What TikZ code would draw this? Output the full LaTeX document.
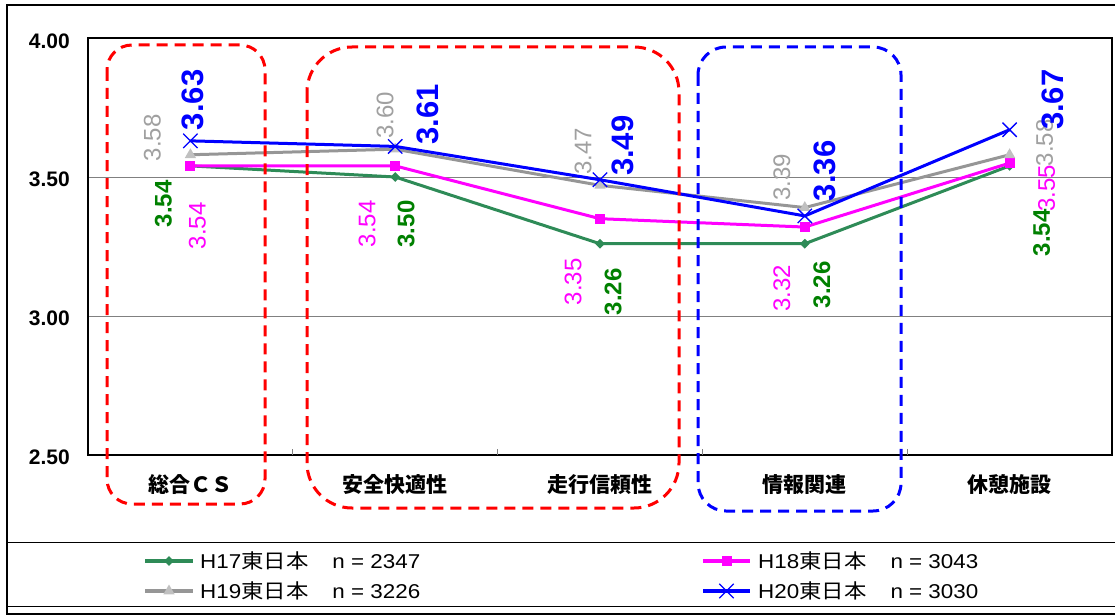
\documentclass[tikz,border=0pt]{standalone}
\usepackage{fontspec}
\setmainfont{Liberation Sans}
\newfontfamily\jpfont{Noto Sans CJK JP}
\newfontfamily\legfont[FakeStretch=1.12]{Liberation Sans}
\newfontfamily\legjpfont[FakeStretch=1.12]{Noto Sans CJK JP}
\usetikzlibrary{shapes.geometric,shapes.misc,calc}
\definecolor{seagr}{RGB}{46,139,87}
\definecolor{valgr}{RGB}{0,128,0}
\definecolor{linegr}{RGB}{150,150,150}
\definecolor{markgr}{RGB}{192,192,192}
\definecolor{valgray}{RGB}{160,160,160}
\definecolor{mag}{RGB}{255,0,255}

\begin{document}
\begin{tikzpicture}[x=1pt,y=-1pt,
    serie/.style={line width=3pt, line join=round},
    val/.style={rotate=90, inner sep=0pt, font=\fontsize{24}{24}\selectfont},
    bigval/.style={rotate=90, inner sep=0pt, font=\bfseries\fontsize{31}{31}\selectfont},
    mk17/.style={diamond, fill=seagr, inner sep=0pt, minimum size=10pt},
    mk18/.style={rectangle, fill=mag, inner sep=0pt, minimum size=10pt},
    mk19/.style={regular polygon, regular polygon sides=3, fill=markgr, inner sep=0pt, minimum size=13pt},
    mk20/.style={cross out, draw=blue, line width=1.3pt, inner sep=0pt, minimum size=13pt},
    groupbox/.style={line width=3pt, dash pattern=on 11pt off 7pt, rounded corners=25pt},
    ticklab/.style={anchor=east, inner sep=0pt, font=\bfseries\fontsize{21}{21}\selectfont},
    catlab/.style={inner sep=0pt, font=\jpfont\bfseries\fontsize{21}{21}\selectfont},
    legtext/.style={anchor=west, inner sep=0pt, font=\legfont\fontsize{20}{20}\selectfont}]
  \useasboundingbox (0,0) rectangle (1115,615);

  % frame and legend box
  \draw[line width=1.5pt] (1115,5) -- (7,5) -- (7,614) -- (1115,614);
  \draw[line width=1pt] (7,542) -- (1115,542);
  \draw[line width=1pt] (7,606) -- (1115,606);

  % plot area
  \draw[gray, line width=0.8pt] (88,177) -- (1112,177);
  \draw[gray, line width=0.8pt] (88,316) -- (1112,316);
  \draw[line width=1.5pt] (88,38) rectangle (1112,455);
  \foreach \t in {1,...,4}
    \draw[gray, line width=0.8pt] ({88+204.8*\t},449) -- ({88+204.8*\t},455);

  \node[ticklab] (y400) at (70,41) {4.00};
  \node[ticklab] (y350) at (70,179) {3.50};
  \node[ticklab] (y300) at (70,318) {3.00};
  \node[ticklab] (y250) at (70,457) {2.50};

  \node[catlab] (c1) at (190.4,485) {総合ＣＳ};
  \node[catlab] (c2) at (395.2,485) {安全快適性};
  \node[catlab] (c3) at (600,485) {走行信頼性};
  \node[catlab] (c4) at (804.8,485) {情報関連};
  \node[catlab] (c5) at (1009.6,485) {休憩施設};

  % points of the four series
  \foreach \i/\v in {1/3.54,2/3.50,3/3.26,4/3.26,5/3.54}
    \coordinate (g\i) at ({190.4+204.8*(\i-1)},{455-(\v-2.5)*278});
  \foreach \i/\v in {1/3.54,2/3.54,3/3.35,4/3.32,5/3.55}
    \coordinate (m\i) at ({190.4+204.8*(\i-1)},{455-(\v-2.5)*278});
  \foreach \i/\v in {1/3.58,2/3.60,3/3.47,4/3.39,5/3.58}
    \coordinate (s\i) at ({190.4+204.8*(\i-1)},{455-(\v-2.5)*278});
  \foreach \i/\v in {1/3.63,2/3.61,3/3.49,4/3.36,5/3.67}
    \coordinate (b\i) at ({190.4+204.8*(\i-1)},{455-(\v-2.5)*278});

  \draw[serie, seagr] (g1) -- (g2) -- (g3) -- (g4) -- (g5);
  \foreach \i in {1,...,5} \node[mk17] (gm\i) at (g\i) {};
  \draw[serie, mag] (m1) -- (m2) -- (m3) -- (m4) -- (m5);
  \foreach \i in {1,...,5} \node[mk18] (mm\i) at (m\i) {};
  \draw[serie, linegr] (s1) -- (s2) -- (s3) -- (s4) -- (s5);
  \foreach \i in {1,...,5} \node[mk19] (sm\i) at (s\i) {};
  \draw[serie, blue] (b1) -- (b2) -- (b3) -- (b4) -- (b5);
  \foreach \i in {1,...,5} \node[mk20] (bm\i) at (b\i) {};

  % value labels
  \foreach \i/\v/\dx/\dy in {1/3.54/-27/38,2/3.50/11/47,3/3.26/13/48,4/3.26/17/41,5/3.54/32/67}
    \node[val, font=\bfseries\fontsize{24}{24}\selectfont, valgr] (gv\i) at ($(g\i)+(\dx,\dy)$) {\v};
  \foreach \i/\v/\dx/\dy in {1/3.54/7/60,2/3.54/-28/58,3/3.35/-27/63,4/3.32/-23/61,5/3.55/37/25}
    \node[val, mag] (mv\i) at ($(m\i)+(\dx,\dy)$) {\v};
  \foreach \i/\v/\dx/\dy in {1/3.58/-38/-17,2/3.60/-10/-34,3/3.47/-17/-34,4/3.39/-23/-30,5/3.58/35/-12}
    \node[val, valgray] (sv\i) at ($(s\i)+(\dx,\dy)$) {\v};
  \foreach \i/\v/\dx/\dy in {1/3.63/2/-41,2/3.61/33/-32,3/3.49/23/-34,4/3.36/20/-45,5/3.67/43/-30}
    \node[bigval, blue] (bv\i) at ($(b\i)+(\dx,\dy)$) {\v};

  % dashed groups
  \draw[groupbox, red] (107,45) rectangle (265,504);
  \draw[groupbox, red, rounded corners=45pt] (307,47) rectangle (679,508);
  \draw[groupbox, blue, rounded corners=28pt] (698,47) rectangle (901,511);

  % legend
  \coordinate (l17a) at (145,561); \coordinate (l17b) at (193,561);
  \coordinate (l19a) at (145,591); \coordinate (l19b) at (193,591);
  \coordinate (l18a) at (703,561); \coordinate (l18b) at (750,561);
  \coordinate (l20a) at (703,591); \coordinate (l20b) at (750,591);
  \draw[serie, seagr, line width=3.5pt] (l17a) -- (l17b);
  \node[mk17] (k17) at ($(l17a)!0.5!(l17b)$) {};
  \draw[serie, linegr, line width=3.5pt] (l19a) -- (l19b);
  \node[mk19] (k19) at ($(l19a)!0.5!(l19b)$) {};
  \draw[serie, mag, line width=3.5pt] (l18a) -- (l18b);
  \node[mk18] (k18) at ($(l18a)!0.5!(l18b)$) {};
  \draw[serie, blue, line width=3.5pt] (l20a) -- (l20b);
  \node[mk20] (k20) at ($(l20a)!0.5!(l20b)$) {};
  \node[legtext] (t17) at (200,561) {H17{\legjpfont 東日本}\hspace{24pt}n = 2347};
  \node[legtext] (t19) at (200,591) {H19{\legjpfont 東日本}\hspace{24pt}n = 3226};
  \node[legtext] (t18) at (758,561) {H18{\legjpfont 東日本}\hspace{24pt}n = 3043};
  \node[legtext] (t20) at (758,591) {H20{\legjpfont 東日本}\hspace{24pt}n = 3030};
\end{tikzpicture}
\end{document}
